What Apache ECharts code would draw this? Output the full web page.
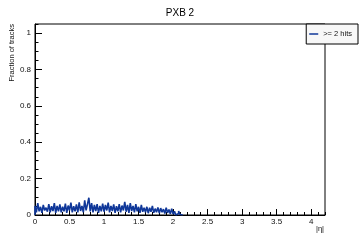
<!DOCTYPE html>
<html>
<head>
<meta charset="utf-8">
<script src="https://cdn.jsdelivr.net/npm/echarts@6/dist/echarts.min.js"></script>
<style>
  html, body { margin: 0; padding: 0; background: #fff; }
  #chart { width: 360px; height: 240px; }
</style>
</head>
<body>
<div id="chart"></div>
<script>
// histogram of |eta|, bins of 0.02 starting at 0
const binWidth = 0.02
const fractions = [
  0.050, 0.015, 0.065, 0.020, 0.045, 0.012, 0.055, 0.025, 0.040, 0.018,
  0.060, 0.015, 0.048, 0.022, 0.065, 0.012, 0.050, 0.020, 0.058, 0.015,
  0.045, 0.020, 0.062, 0.012, 0.052, 0.025, 0.068, 0.015, 0.048, 0.020,
  0.058, 0.014, 0.070, 0.022, 0.050, 0.015, 0.080, 0.025, 0.060, 0.095,
  0.020, 0.065, 0.015, 0.055, 0.022, 0.060, 0.012, 0.050, 0.020, 0.062,
  0.018, 0.055, 0.025, 0.068, 0.015, 0.050, 0.022, 0.058, 0.012, 0.048,
  0.020, 0.060, 0.015, 0.052, 0.025, 0.072, 0.018, 0.055, 0.012, 0.065,
  0.022, 0.050, 0.015, 0.060, 0.020, 0.045, 0.012, 0.055, 0.018, 0.040,
  0.015, 0.045, 0.010, 0.040, 0.018, 0.050, 0.012, 0.035, 0.015, 0.042,
  0.010, 0.038, 0.015, 0.032, 0.008, 0.040, 0.012, 0.030, 0.006, 0.035,
  0.005, 0.020, 0.000, 0.008, 0.022, 0.003, 0.000
]
const seriesName = '>= 2 hits'
const titleText = 'PXB 2'
const yTitle = 'Fraction of tracks'
const xTitle = '|η|'

const lineColor = '#0f3799'
const font = 'Liberation Sans, Arial, sans-serif'

// step points at bin edges
const points = [[0, 0]]
fractions.forEach((v, i) => points.push([+(i * binWidth).toFixed(2), v]))
points.push([+(fractions.length * binWidth).toFixed(2), 0])

const chart = echarts.init(document.getElementById('chart'), null, { renderer: 'canvas' })

const labelStyle = { fontSize: 8, color: '#111', fontFamily: font }

chart.setOption({
  animation: false,
  title: {
    text: titleText,
    left: 'center',
    top: 3,
    textStyle: { fontSize: 10, fontWeight: 'normal', color: '#000', fontFamily: font },
  },
  legend: {
    data: [seriesName],
    right: 2,
    top: 24,
    orient: 'vertical',
    icon: 'rect',
    itemWidth: 9,
    itemHeight: 1.5,
    itemGap: 0,
    padding: [6, 6, 6, 3],
    backgroundColor: '#f7f7f7',
    borderColor: '#000',
    borderWidth: 1,
    textStyle: { fontSize: 7.5, color: '#111', fontFamily: font },
  },
  graphic: [
    {
      type: 'text',
      x: 12,
      y: 24,
      rotation: Math.PI / 2,
      style: { text: yTitle, align: 'right', verticalAlign: 'middle', fontSize: 7.5, fill: '#111', fontFamily: font },
    },
    {
      type: 'text',
      x: 324,
      y: 225,
      style: { text: xTitle, align: 'right', verticalAlign: 'top', fontSize: 7.5, fill: '#111', fontFamily: font },
    },
  ],
  grid: {
    left: 35, right: 35, top: 24, bottom: 25,
    show: true, borderColor: '#000', borderWidth: 1, backgroundColor: 'transparent',
  },
  xAxis: [
    {
      type: 'value', min: 0, max: 4.2, interval: 0.5,
      axisLine: { lineStyle: { color: '#000', width: 1 } },
      axisTick: { inside: true, length: 6, lineStyle: { color: '#000' } },
      axisLabel: { ...labelStyle, margin: 3, showMaxLabel: false },
      splitLine: { show: false },
    },
    {
      type: 'value', min: 0, max: 4.2, interval: 0.1, position: 'bottom',
      axisLine: { show: false },
      axisTick: { inside: true, length: 3, lineStyle: { color: '#000' } },
      axisLabel: { show: false },
      splitLine: { show: false },
    },
  ],
  yAxis: [
    {
      type: 'value', min: 0, max: 1.05, interval: 0.2,
      axisLine: { show: true, lineStyle: { color: '#000', width: 1 } },
      axisTick: { show: true, inside: true, length: 7, lineStyle: { color: '#000' } },
      axisLabel: { ...labelStyle, margin: 4, showMaxLabel: false },
      splitLine: { show: false },
    },
    {
      type: 'value', min: 0, max: 1.05, interval: 0.05, position: 'left',
      axisLine: { show: false },
      axisTick: { show: true, inside: true, length: 3.5, lineStyle: { color: '#000' } },
      axisLabel: { show: false },
      splitLine: { show: false },
    },
  ],
  series: [
    {
      name: seriesName,
      type: 'line',
      step: 'end',
      data: points,
      symbol: 'none',
      lineStyle: { color: lineColor, width: 1.6 },
      itemStyle: { color: lineColor },
      z: 3,
    },
  ],
})
</script>
</body>
</html>
